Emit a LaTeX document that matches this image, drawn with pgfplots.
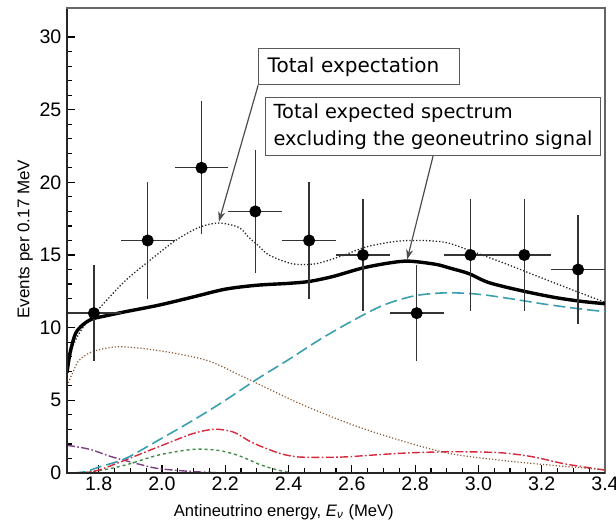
\documentclass[border=0pt]{standalone}
\usepackage{fontspec}
\setmainfont{Liberation Sans}
\newfontfamily\notefont{DejaVu Sans}
\usepackage{pgfplots}
\pgfplotsset{compat=1.18}
\usetikzlibrary{arrows.meta}

\definecolor{reactor}{HTML}{3A9FAE}
\definecolor{bgbrown}{HTML}{8C5A34}
\definecolor{bgred}{HTML}{D8283C}
\definecolor{geogreen}{HTML}{3D8F48}
\definecolor{bgpurple}{HTML}{7A3F80}
\definecolor{framegray}{HTML}{666666}

% measured data: energy, counts, x half width, y error
\pgfplotstableread{
E      n   ex     ey
1.785  11  0.085  3.32
1.955  16  0.085  4.00
2.125  21  0.085  4.58
2.295  18  0.085  4.24
2.465  16  0.085  4.00
2.635  15  0.085  3.87
2.805  11  0.085  3.32
2.975  15  0.085  3.87
3.145  15  0.085  3.87
3.315  14  0.085  3.74
}\datatable

\begin{document}
\begin{tikzpicture}
\useasboundingbox (0,0) rectangle (308pt,264pt);
\begin{axis}[
  at={(33.5pt,27.5pt)}, anchor=south west,
  scale only axis,
  width=269pt, height=232.5pt,
  xmin=1.7, xmax=3.4,
  ymin=0, ymax=32,
  xtick={1.8,2.0,...,3.4},
  minor x tick num=3,
  ytick={0,5,...,30},
  minor y tick num=4,
  xtick pos=bottom, ytick pos=left,
  tick align=inside,
  major tick length=4pt,
  minor tick length=2.3pt,
  every tick/.style={black, line width=0.6pt},
  axis line style={framegray, line width=0.7pt},
  /pgf/number format/assume math mode=true,
  xticklabel style={font=\fontsize{9.8}{11}\selectfont, yshift=1.8pt,
    /pgf/number format/fixed, /pgf/number format/fixed zerofill,
    /pgf/number format/precision=1},
  yticklabel style={font=\fontsize{9.8}{11}\selectfont, xshift=0.7pt},
  xlabel={Antineutrino energy, \textit{E}\textsubscript{\textit{ν}} (MeV)},
  ylabel={Events per 0.17 MeV},
  xlabel style={at={([yshift=-21.8pt]axis description cs:0.403,0)},
    anchor=base, font=\fontsize{8.3}{10}\selectfont},
  ylabel style={at={([xshift=-18.8pt]axis description cs:0,0.503)},
    anchor=base, font=\fontsize{8.5}{10}\selectfont},
  clip=true,
]
% purple background
\addplot[bgpurple, line width=0.7pt, smooth,
  dash pattern=on 4pt off 1.2pt on 0.8pt off 1.2pt] coordinates {
  (1.700,1.90) (1.738,1.78) (1.780,1.58) (1.833,1.17) (1.885,0.85)
  (1.938,0.55) (1.990,0.30) (2.096,0.10) (2.200,0.00)
};
% green (geoneutrino)
\addplot[geogreen, line width=0.7pt, smooth,
  dash pattern=on 1.5pt off 1.5pt] coordinates {
  (1.745,0.00) (1.800,0.15) (1.885,0.55) (1.990,1.24) (2.096,1.62)
  (2.170,1.58) (2.220,1.35) (2.260,1.05) (2.307,0.60) (2.350,0.30)
  (2.390,0.08) (2.420,0.00)
};
% red background
\addplot[bgred, line width=0.7pt, smooth,
  dash pattern=on 4pt off 1.2pt on 0.8pt off 1.2pt] coordinates {
  (1.740,0.00) (1.800,0.20) (1.885,0.90) (1.990,1.81) (2.096,2.70)
  (2.159,3.00) (2.200,2.95) (2.233,2.75) (2.280,2.15) (2.328,1.70)
  (2.380,1.30) (2.433,1.10) (2.520,1.08) (2.590,1.12) (2.749,1.35)
  (2.907,1.46) (3.065,1.40) (3.170,1.12) (3.275,0.62) (3.400,0.20)
};
% brown background
\addplot[bgbrown, line width=0.6pt, smooth, densely dotted] coordinates {
  (1.700,6.00) (1.720,7.00) (1.738,7.75) (1.780,8.35) (1.854,8.68)
  (1.938,8.57) (2.043,8.23) (2.149,7.70) (2.254,6.65) (2.350,5.65)
  (2.433,4.80) (2.590,3.41) (2.749,2.27) (2.907,1.35) (3.065,0.89)
  (3.223,0.55) (3.400,0.22)
};
% reactor (cyan)
\addplot[reactor, line width=0.8pt, smooth,
  dash pattern=on 6pt off 2.5pt] coordinates {
  (1.720,0.00) (1.760,0.10) (1.800,0.40) (1.885,1.00) (1.990,2.27)
  (2.100,3.65) (2.200,5.00) (2.300,6.45) (2.400,7.80) (2.500,9.20)
  (2.600,10.45) (2.700,11.55) (2.800,12.20) (2.900,12.40) (3.000,12.30)
  (3.100,12.00) (3.200,11.65) (3.300,11.35) (3.400,11.10)
};
% total expectation
\addplot[black!85, line width=0.65pt, smooth, densely dotted] coordinates {
  (1.700,7.00) (1.720,8.80) (1.750,10.00) (1.780,10.80) (1.830,12.00)
  (1.885,13.25) (1.954,14.50) (2.043,16.00) (2.117,16.90) (2.180,17.20)
  (2.243,16.90) (2.275,16.20) (2.307,15.60) (2.338,15.00) (2.412,14.40)
  (2.486,14.40) (2.570,14.95) (2.644,15.55) (2.739,15.94) (2.823,16.00)
  (2.900,15.85) (2.980,15.25) (3.086,14.40) (3.191,13.50) (3.297,12.60)
  (3.400,11.75)
};
% total excluding geoneutrinos
\addplot[black, line width=1.7pt, smooth] coordinates {
  (1.700,6.90) (1.710,8.30) (1.727,9.60) (1.750,10.20) (1.780,10.60)
  (1.830,10.85) (1.885,11.10) (1.990,11.55) (2.096,12.10) (2.200,12.65)
  (2.300,12.92) (2.400,13.05) (2.465,13.18) (2.540,13.52) (2.633,14.10)
  (2.717,14.45) (2.780,14.58) (2.865,14.36) (2.910,14.10) (2.970,13.72)
  (3.033,13.10) (3.139,12.53) (3.244,12.07) (3.330,11.80) (3.400,11.65)
};
% data
\addplot[only marks, mark=*, mark size=2.8pt, black,
  error bars/.cd, x dir=both, x explicit, y dir=both, y explicit,
  error mark=none,
  error bar style={black!80, line width=0.65pt}]
  table[x=E, y=n, x error=ex, y error=ey] {\datatable};

\node[draw=black!65, line width=0.6pt, anchor=north west, inner xsep=4.5pt,
  minimum height=17.9pt, text width=91.5pt, align=left,
  font=\notefont\fontsize{10}{11}\selectfont]
  (b1) at (axis cs:2.304,29.23) {Total expectation};
\node[draw=black!65, line width=0.6pt, anchor=north west, inner xsep=4pt,
  inner ysep=3pt, align=left,
  font=\notefont\fontsize{9.7}{13.5}\selectfont]
  (b2) at (axis cs:2.3256,25.86) {Total expected spectrum\\excluding the geoneutrino signal};
\draw[black!70, line width=0.6pt, -{Stealth[length=5pt,width=3.5pt]}]
  (b1.south west) -- (axis cs:2.18,17.3);
\draw[black!70, line width=0.6pt, -{Stealth[length=5pt,width=3.5pt]}]
  (b2.south) -- (axis cs:2.775,14.7);
\end{axis}
\draw[black!85, line width=0.7pt] (33.5pt,259.5pt) -- (33.5pt,27.5pt) -- (302.5pt,27.5pt);
\end{tikzpicture}
\end{document}
